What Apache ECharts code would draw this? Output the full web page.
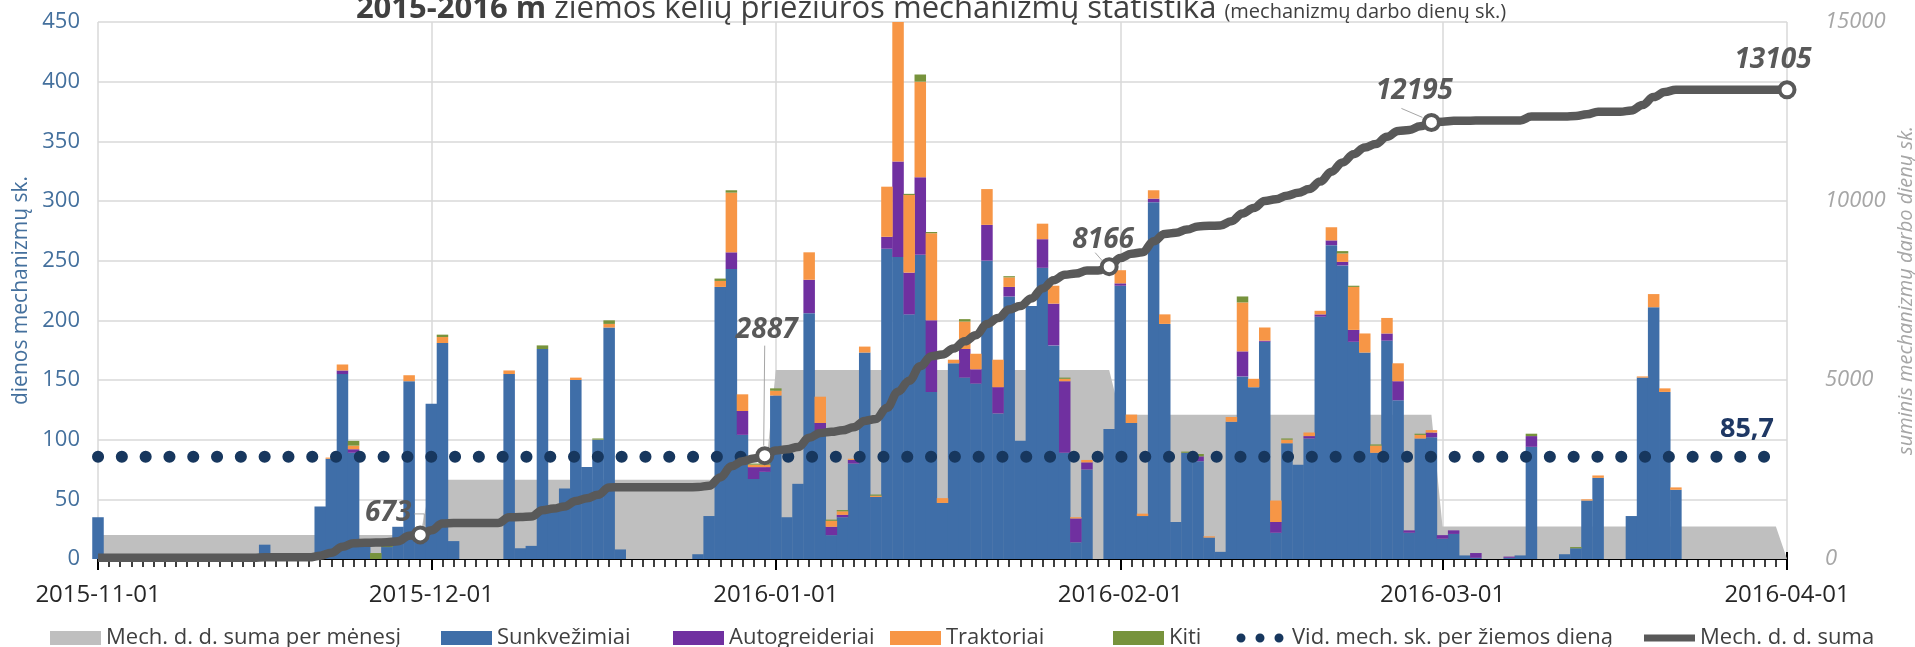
<!DOCTYPE html>
<html><head><meta charset="utf-8">
<script src="https://cdn.jsdelivr.net/npm/echarts@6/dist/echarts.min.js"></script>
<style>html,body{margin:0;padding:0;background:#fff}#c{width:1915px;height:647px}</style>
</head><body><div id="c"></div>
<script>
// ---------- DATA (daily values, 2015-11-01 .. 2016-04-01) ----------
const startYear = 2015, startMonth = 10, startDay = 1; // 2015-11-01
const dayCount = 153;

const sunkvezimiai = [
  35,0,0,0,0,0,0,0,0,0, 0,0,0,0,0,12,0,0,0,0, 44,84,155,89,15,0,10,27,149,22,
  130,181,15,0,0,0,0,155,9,11, 176,45,59,150,77,100,194,8,0,0, 0,0,0,0,4,36,228,243,104,67, 73,
  137,35,63,206,106,20,35,80,173,52, 260,253,205,255,140,47,164,152,147,250, 122,220,99,212,244,179,89,14,75,0, 109,
  229,114,36,299,197,31,89,82,18,6, 115,153,144,182,22,97,79,101,203,263, 246,182,173,89,183,133,22,101,102,
  17,21,3,1,0,0,1,3,94,0, 0,4,9,49,68,0,0,36,152,211, 140,58,0,0,0,0,0,0,0,0, 0,
  0
];
const autogreideriai = [
  0,0,0,0,0,0,0,0,0,0, 0,0,0,0,0,0,0,0,0,0, 0,0,3,3,0,0,0,0,0,0,
  0,0,0,0,0,0,0,0,0,0, 0,0,0,0,0,0,0,0,0,0, 0,0,0,0,0,0,0,14,20,10, 4,
  0,0,0,28,8,7,2,3,0,0, 10,80,35,65,60,0,0,24,12,30, 22,8,0,0,24,35,60,20,6,0, 0,
  2,0,0,3,0,0,0,4,0,0, 0,21,0,1,9,0,0,2,2,4, 3,10,0,0,6,16,2,0,4,
  3,3,0,4,0,0,1,0,9,0, 0,0,0,0,0,0,0,0,0,0, 0,0,0,0,0,0,0,0,0,0, 0,
  0
];
const traktoriai = [
  0,0,0,0,0,0,0,0,0,0, 0,0,0,0,0,0,0,0,0,0, 0,1,5,3,0,0,0,0,5,0,
  0,5,0,0,0,0,0,3,0,0, 0,0,0,2,0,0,3,0,0,0, 0,0,0,0,0,0,5,50,14,2, 2,
  4,0,0,23,22,5,3,1,5,1, 42,118,65,80,73,4,3,23,13,30, 23,8,0,0,13,15,2,1,2,0, 0,
  11,7,2,7,8,0,0,0,1,0, 4,41,7,11,18,3,0,3,3,11, 7,36,16,6,13,15,0,3,2,
  0,0,0,0,0,0,0,0,0,0, 0,0,0,1,2,0,0,0,1,11, 3,2,0,0,0,0,0,0,0,0, 0,
  0
];
const kiti = [
  0,0,0,0,0,0,0,0,0,0, 0,0,0,0,0,0,0,0,0,0, 0,0,0,4,0,5,2,0,0,0,
  0,2,0,0,0,0,0,0,0,0, 3,0,0,0,0,1,3,0,0,0, 0,0,0,0,0,0,2,2,0,1, 1,
  2,0,0,0,0,1,1,0,0,1, 0,1,1,6,1,0,0,2,0,0, 0,1,0,0,0,0,1,0,0,0, 0,
  0,0,0,0,0,0,1,2,0,0, 0,5,0,0,0,1,0,0,0,0, 2,1,0,1,0,0,0,1,0,
  0,0,0,0,0,0,0,0,2,0, 0,0,1,0,0,0,0,0,0,0, 0,0,0,0,0,0,0,0,0,0, 0,
  0
];

const seriesNames = {
  month: 'Mech. d. d. suma per mėnesį',
  sunk: 'Sunkvežimiai',
  auto: 'Autogreideriai',
  trak: 'Traktoriai',
  kiti: 'Kiti',
  avg: 'Vid. mech. sk. per žiemos dieną',
  cum: 'Mech. d. d. suma'
};
const titleBold = '2015-2016 m';
const titleMain = 'žiemos kelių priežiūros mechanizmų statistika';
const titleSub = '(mechanizmų darbo dienų sk.)';
const leftAxisName = 'dienos mechanizmų sk.';
const rightAxisName = 'suminis mechanizmų darbo dienų sk.';

// ---------- derived ----------
const pad = n => (n < 10 ? '0' : '') + n;
const dates = [], monthKey = [], monthStarts = [];
for (let i = 0; i < dayCount; i++) {
  const dt = new Date(Date.UTC(startYear, startMonth, startDay + i));
  dates.push(dt.getUTCFullYear() + '-' + pad(dt.getUTCMonth() + 1) + '-' + pad(dt.getUTCDate()));
  monthKey.push(dt.getUTCFullYear() * 12 + dt.getUTCMonth());
  if (dt.getUTCDate() === 1) monthStarts.push(i);
}
const lastIdx = dayCount - 1;
const totals = sunkvezimiai.map((v, i) => v + autogreideriai[i] + traktoriai[i] + kiti[i]);
const cumulative = [];
totals.reduce((a, v, i) => (cumulative[i] = a + v), 0);
const monthSums = {};
totals.forEach((v, i) => { monthSums[monthKey[i]] = (monthSums[monthKey[i]] || 0) + v; });
const monthArea = totals.map((v, i) => (i === lastIdx ? 0 : monthSums[monthKey[i]]));
const grandTotal = cumulative[lastIdx];
const avg = grandTotal / dayCount;
const avgText = avg.toFixed(1).replace('.', ',');
// markers: last day of Nov, Dec, Jan, Feb and the final day
const markerIdx = monthStarts.slice(1, -1).map(s => s - 1).concat([lastIdx]);

// ---------- layout ----------
const FONT = 'Open Sans';
const G = { left: 98, right: 128, top: 22, bottom: 88 };
const plotW = 1915 - G.left - G.right;
const barW = plotW / lastIdx + 0.4;
const labelOffsets = [[-32, -22], [2, -126], [-6, -27], [-17, -31], [-14, -30]];
const leaders = [
  [[-6, -21], [4, -21], [4, -10]],
  [[0, -110], [-1, -10]],
  [[-14, -14], [-7, -6]],
  [[-30, -14], [-9, -5]],
  null
];

const barSeries = (name, arr, color) => ({
  name, type: 'bar', stack: 'mech', xAxisIndex: 0, yAxisIndex: 0, clip: true,
  barWidth: barW, data: arr, itemStyle: { color }, z: 2
});

const cumData = cumulative.map((v, i) => {
  const k = markerIdx.indexOf(i);
  if (k < 0) return { value: v, symbol: 'none' };
  return { value: v, symbol: 'circle', symbolSize: 15,
    label: { show: true, position: 'inside', offset: labelOffsets[k], formatter: String(v),
      fontFamily: FONT, fontSize: 28, fontWeight: 'bold', fontStyle: 'italic', color: '#595959' } };
});

const dotIcon = 'path://M0,0L0,0 M51,14L51,14 M0.5,7a4.5,4.5 0 1,0 9,0a4.5,4.5 0 1,0 -9,0 M19.5,7a4.5,4.5 0 1,0 9,0a4.5,4.5 0 1,0 -9,0 M38.5,7a4.5,4.5 0 1,0 9,0a4.5,4.5 0 1,0 -9,0';
const thickIcon = 'path://M0,0L0,0 M51,14L51,14 M0,3.5L51,3.5L51,10.5L0,10.5Z';

const legendDefs = [
  { name: seriesNames.month, left: 45, icon: 'rect', color: '#BFBFBF' },
  { name: seriesNames.sunk, left: 436, icon: 'rect', color: '#3F6EA8' },
  { name: seriesNames.auto, left: 668, icon: 'rect', color: '#7030A0' },
  { name: seriesNames.trak, left: 885, icon: 'rect', color: '#F79646' },
  { name: seriesNames.kiti, left: 1108, icon: 'rect', color: '#77933C' },
  { name: seriesNames.avg, left: 1231, icon: dotIcon, color: '#17375E' },
  { name: seriesNames.cum, left: 1639, icon: thickIcon, color: '#595959' }
];

const option = {
  animation: false,
  backgroundColor: '#fff',
  textStyle: { fontFamily: FONT },
  title: {
    text: '{b|' + titleBold + '} {n|' + titleMain + '} {s|' + titleSub + '}',
    left: 926, textAlign: 'center', top: -20,
    textStyle: {
      fontFamily: FONT, fontSize: 31, color: '#404040', fontWeight: 'normal',
      rich: {
        b: { fontFamily: FONT, fontSize: 31, fontWeight: 'bold', color: '#404040', lineHeight: 40, verticalAlign: 'bottom' },
        n: { fontFamily: FONT, fontSize: 31, color: '#404040', lineHeight: 40, verticalAlign: 'bottom' },
        s: { fontFamily: FONT, fontSize: 20, color: '#404040', lineHeight: 40, verticalAlign: 'bottom', padding: [0, 0, 3, 0] }
      }
    }
  },
  legend: legendDefs.map(l => ({
    left: l.left, top: 622, orient: 'horizontal', selectedMode: false,
    itemWidth: 51, itemHeight: 14, itemGap: 0,
    textStyle: { fontFamily: FONT, fontSize: 22, color: '#404040' },
    data: [{ name: l.name, icon: l.icon, itemStyle: { color: l.color, borderWidth: 0, opacity: 1 }, lineStyle: { width: 0, opacity: 0 } }]
  })),
  grid: { left: G.left, right: G.right, top: G.top, bottom: G.bottom, containLabel: false, outerBoundsMode: 'none' },
  xAxis: [
    { type: 'category', data: dates, boundaryGap: false, position: 'bottom',
      axisLine: { show: true, onZero: false, lineStyle: { color: '#000', width: 2 } },
      axisTick: { show: true, interval: 0, length: 8, lineStyle: { color: '#000', width: 1.5 } },
      axisLabel: { show: false }, splitLine: { show: false } },
    { type: 'value', min: 0, max: lastIdx, position: 'bottom',
      axisLine: { show: false, onZero: false },
      axisTick: { show: true, customValues: monthStarts, length: 11, lineStyle: { color: '#000', width: 2 } },
      axisLabel: { show: true, customValues: monthStarts, formatter: v => dates[Math.round(v)], margin: 24,
        fontFamily: FONT, fontSize: 24, color: '#262626', showMinLabel: true, showMaxLabel: true },
      splitLine: { show: true, lineStyle: { color: '#D9D9D9', width: 1.5 } } },
    { type: 'value', min: 0, max: lastIdx, position: 'bottom',
      axisLine: { show: false, onZero: false },
      axisTick: { show: true, inside: true, customValues: monthStarts, length: 7, lineStyle: { color: '#000', width: 2 } },
      axisLabel: { show: false }, splitLine: { show: false } }
  ],
  yAxis: [
    { type: 'value', min: 0, max: 450, interval: 50, position: 'left',
      axisLine: { show: false }, axisTick: { show: false },
      axisLabel: { fontFamily: FONT, fontSize: 22, color: '#44709D', margin: 18 },
      splitLine: { show: true, lineStyle: { color: '#D9D9D9', width: 1.5 } },
      name: leftAxisName, nameLocation: 'middle', nameRotate: 90, nameGap: 66,
      nameTextStyle: { fontFamily: FONT, fontSize: 21, color: '#44709D' } },
    { type: 'value', min: 0, max: 15000, interval: 5000, position: 'right',
      axisLine: { show: false }, axisTick: { show: false }, splitLine: { show: false },
      axisLabel: { fontFamily: FONT, fontSize: 22, color: '#A6A6A6', fontStyle: 'italic', margin: 38,
        formatter: v => String(v) },
      name: rightAxisName, nameLocation: 'middle', nameRotate: 90, nameGap: 77,
      nameTextStyle: { fontFamily: FONT, fontSize: 20, color: '#A6A6A6', fontStyle: 'italic' } }
  ],
  series: [
    { name: seriesNames.month, type: 'line', xAxisIndex: 0, yAxisIndex: 1, data: monthArea,
      symbol: 'none', lineStyle: { width: 0 }, itemStyle: { color: '#BFBFBF' },
      areaStyle: { color: '#BFBFBF', opacity: 1 }, z: 1, silent: true },
    barSeries(seriesNames.sunk, sunkvezimiai, '#3F6EA8'),
    barSeries(seriesNames.auto, autogreideriai, '#7030A0'),
    barSeries(seriesNames.trak, traktoriai, '#F79646'),
    barSeries(seriesNames.kiti, kiti, '#77933C'),
    { name: seriesNames.avg, type: 'line', xAxisIndex: 1, yAxisIndex: 0,
      data: [{ value: [0, avg], symbol: 'none' },
             { value: [lastIdx, avg], symbol: 'circle', symbolSize: 0.1,
               label: { show: true, position: 'inside', offset: [-40, -27], formatter: avgText,
                 fontFamily: FONT, fontSize: 27, fontWeight: 'bold', color: '#1F3864' } }],
      lineStyle: { color: '#17375E', width: 12, type: [0.1, 23.7], cap: 'round' },
      itemStyle: { color: '#17375E' }, z: 3 },
    { name: seriesNames.cum, type: 'line', xAxisIndex: 0, yAxisIndex: 1, data: cumData,
      smooth: 0.4, smoothMonotone: 'x', showSymbol: true, showAllSymbol: true,
      lineStyle: { color: '#595959', width: 8.5 },
      itemStyle: { color: '#fff', borderColor: '#595959', borderWidth: 4 },
      z: 4 }
  ]
};

const chart = echarts.init(document.getElementById('c'), null, { renderer: 'canvas' });
chart.setOption(option);

// leader lines for the cumulative labels, anchored at marker pixels from the chart's own scales
const graphics = [];
markerIdx.forEach((idx, k) => {
  if (!leaders[k]) return;
  const p = chart.convertToPixel({ xAxisIndex: 0, yAxisIndex: 1 }, [idx, cumulative[idx]]);
  graphics.push({ type: 'polyline', z: 10, silent: true,
    shape: { points: leaders[k].map(o => [p[0] + o[0], p[1] + o[1]]) },
    style: { stroke: '#A6A6A6', lineWidth: 1, fill: null } });
});
chart.setOption({ graphic: graphics });
</script>
</body></html>
